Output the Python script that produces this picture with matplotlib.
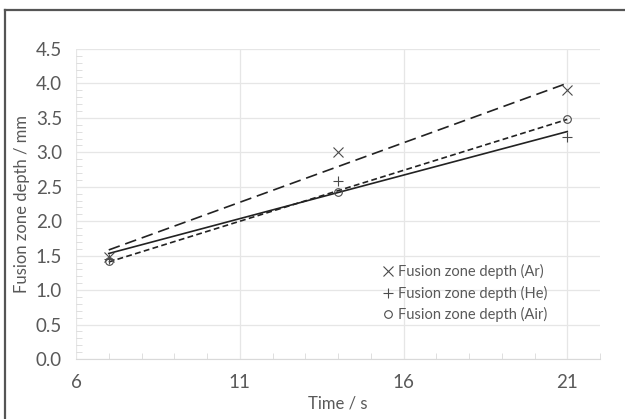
import numpy as np
import matplotlib
matplotlib.use("Agg")
import matplotlib.pyplot as plt
from matplotlib.lines import Line2D
from matplotlib.ticker import MultipleLocator

plt.rcParams['font.family'] = ['Lato', 'DejaVu Sans']

# data
time_s = [7, 14, 21]
depth_ar = [1.48, 3.00, 3.90]
depth_he = [1.45, 2.58, 3.22]
depth_air = [1.42, 2.42, 3.49]

labels = ["Fusion zone depth (Ar)", "Fusion zone depth (He)", "Fusion zone depth (Air)"]
markers = ["x", "+", "o"]
trend_styles = [(0, (7, 3.5)), "-", (0, (3.5, 2))]

txt = "#595959"
grid = "#e6e6e6"

fig = plt.figure(figsize=(6.25, 4.19), dpi=100)
ax = fig.add_axes([0.1216, 0.1432, 0.9600 - 0.1216, 0.883 - 0.1432])

x = np.array(time_s, dtype=float)
for ys, lab, mk, ls in zip([depth_ar, depth_he, depth_air], labels, markers, trend_styles):
    ys = np.array(ys)
    ax.plot(x, ys, linestyle="none", marker=mk, markersize=7 if mk != "o" else 5.5,
            markerfacecolor="none", markeredgecolor="#4a4a4a", markeredgewidth=0.8,
            label=lab, zorder=3)
    k, b = np.polyfit(x, ys, 1)
    xx = np.array([x.min(), x.max()])
    ax.plot(xx, k * xx + b, color="#222222", linestyle=ls, linewidth=1.2, zorder=2)

ax.set_xlim(6, 22)
ax.set_ylim(0, 4.5)
ax.xaxis.set_minor_locator(MultipleLocator(1))
ax.yaxis.set_major_locator(MultipleLocator(0.5))
ax.yaxis.set_minor_locator(MultipleLocator(0.1))
ax.set_xticks([6, 11, 16, 21])
ax.yaxis.set_major_formatter(matplotlib.ticker.FormatStrFormatter("%.1f"))

ax.grid(True, which="major", color=grid, linewidth=0.9, zorder=0)
for s in ["top", "right", "left"]:
    ax.spines[s].set_visible(False)
ax.spines["bottom"].set_color("#d9d9d9")
ax.tick_params(axis="both", which="major", length=0, colors=txt, labelsize=13.5)
ax.tick_params(axis="x", which="major", pad=11)
ax.tick_params(axis="y", which="major", pad=10)
ax.tick_params(axis="x", which="minor", direction="in", length=4, color="#d9d9d9")
ax.tick_params(axis="y", which="minor", direction="in", length=4, color="#d9d9d9")

ax.set_xlabel("Time / s", color=txt, fontsize=12, va="center")
ax.set_ylabel("Fusion zone depth / mm", color=txt, fontsize=12, va="center")
ax.xaxis.set_label_coords(0.5, -0.145)
ax.yaxis.set_label_coords(-0.103, 0.5)

leg = ax.legend(loc="upper left", bbox_to_anchor=(0.573, 0.325), frameon=False,
                fontsize=10.5, handlelength=0.8, handletextpad=0.3,
                labelspacing=0.45, borderaxespad=0)
for t in leg.get_texts():
    t.set_color(txt)

# chart border (only top and left visible in the crop)
fig.add_artist(Line2D([0.0072, 0.0072], [0, 0.9765], transform=fig.transFigure,
                      color="#555555", linewidth=1.6))
fig.add_artist(Line2D([0.0072, 1.0], [0.9765, 0.9765], transform=fig.transFigure,
                      color="#555555", linewidth=1.6))

fig.savefig("out.png", dpi=100)
